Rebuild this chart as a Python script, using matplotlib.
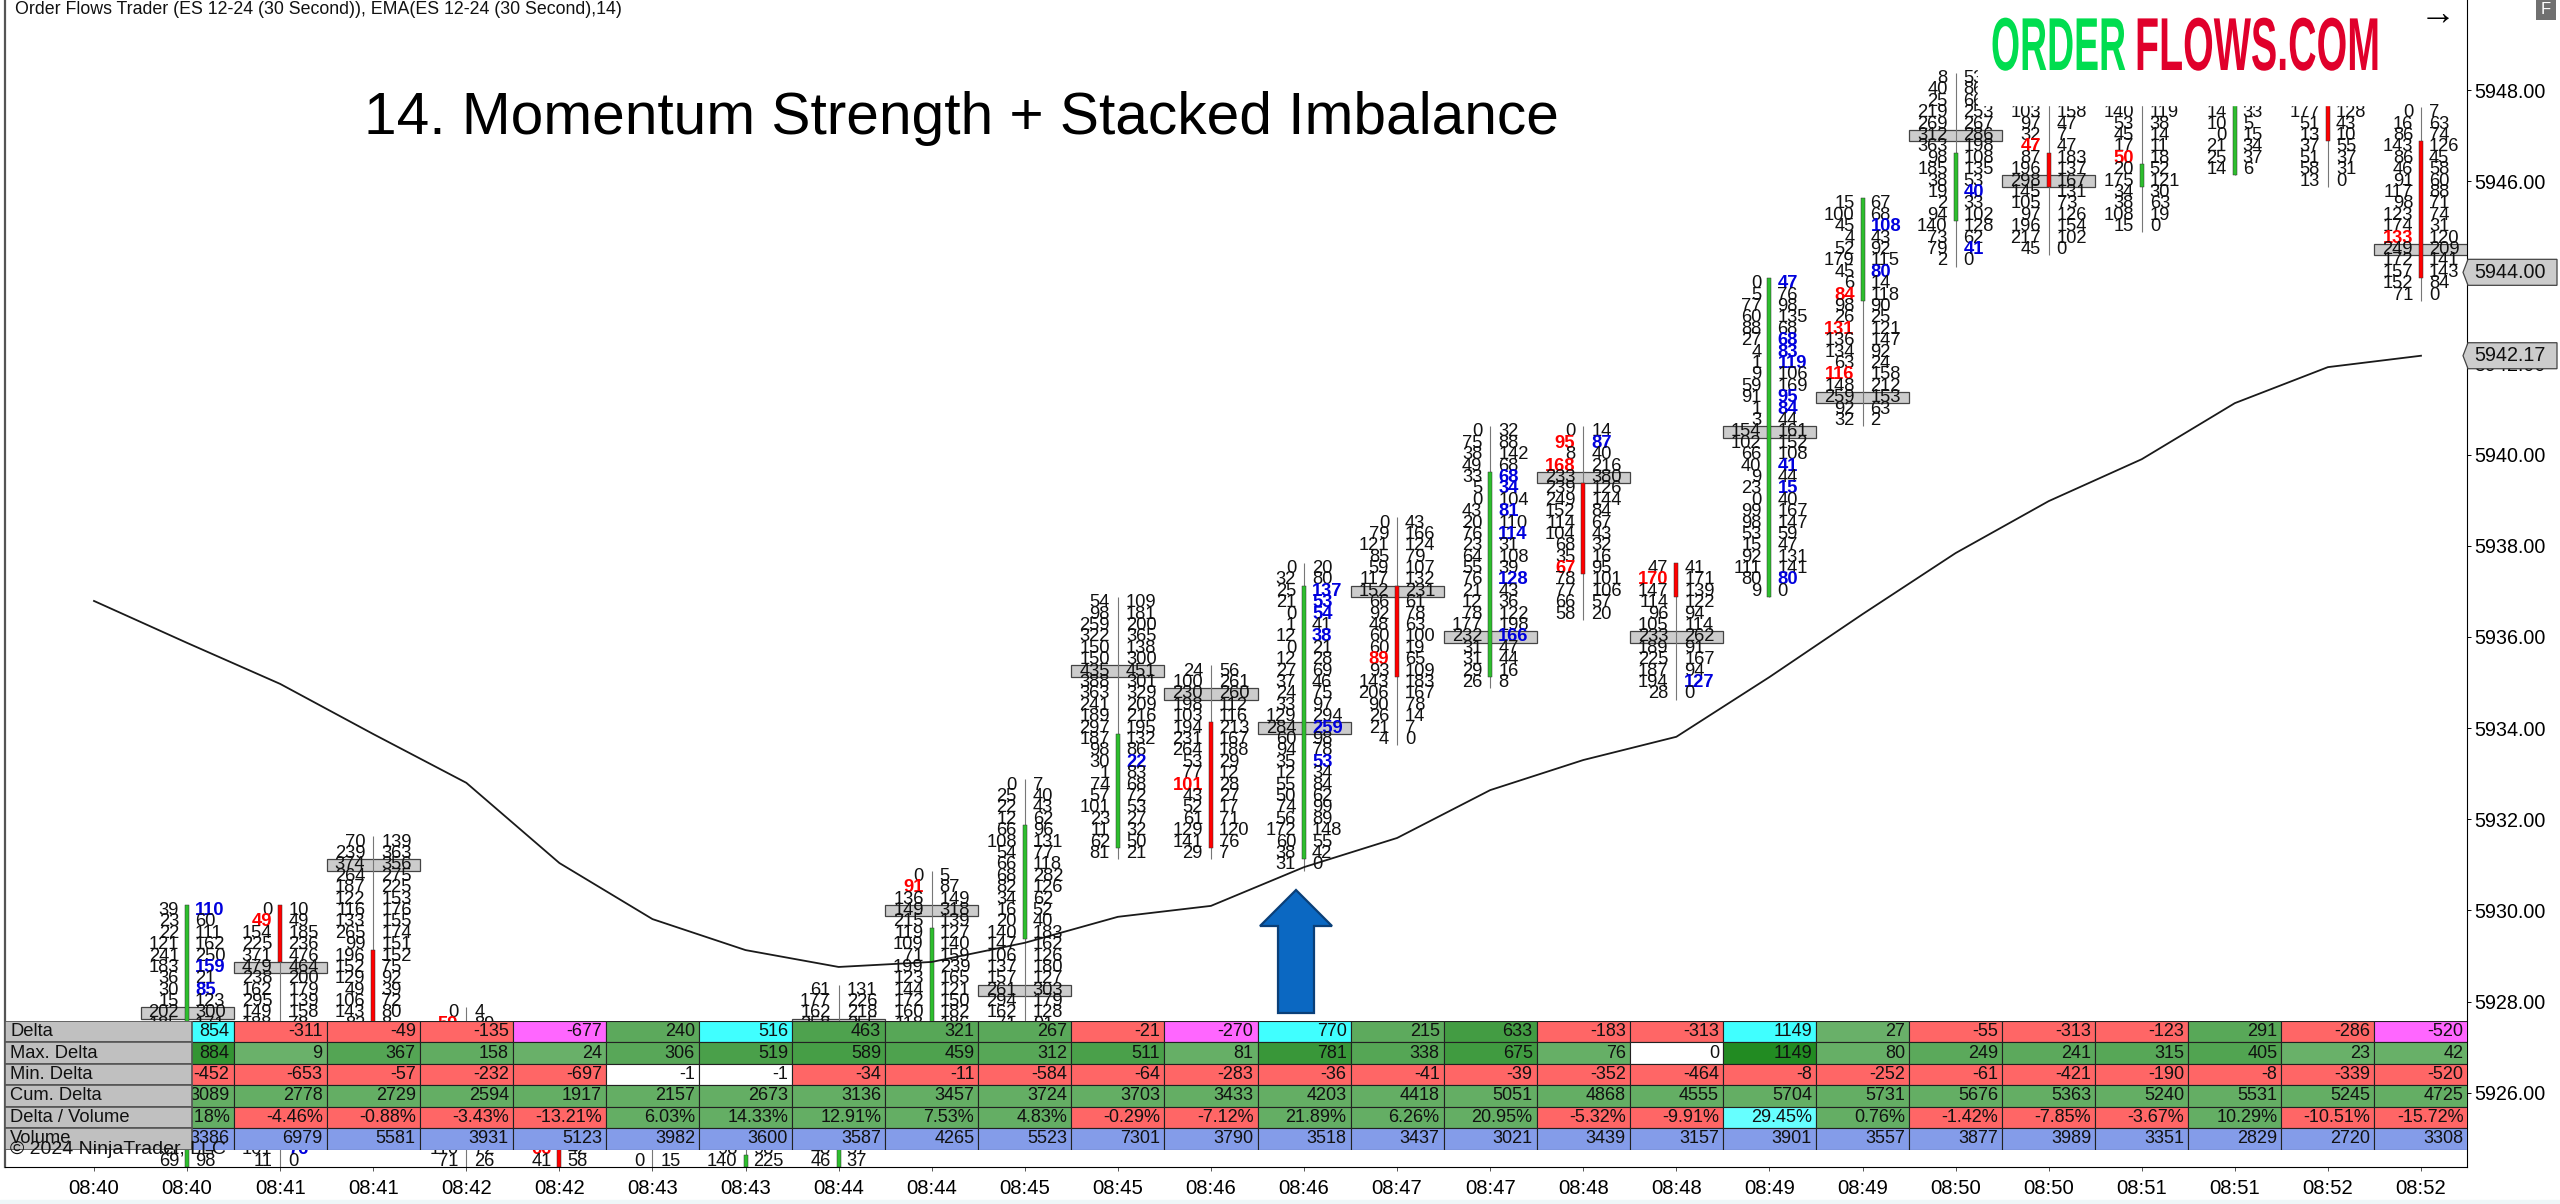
import matplotlib
matplotlib.use("Agg")
import matplotlib.pyplot as plt
from matplotlib.patches import Polygon, Rectangle
from matplotlib.patheffects import AbstractPathEffect
from matplotlib.transforms import Affine2D, IdentityTransform

W, H = 2560, 1204
plt.rcParams['font.family'] = ['Liberation Sans', 'DejaVu Sans']

# x axis
TIME_LABELS = ["08:40", "08:40", "08:41", "08:41", "08:42", "08:42", "08:43", "08:43", "08:44",
               "08:44", "08:45", "08:45", "08:46", "08:46", "08:47", "08:47", "08:48", "08:48",
               "08:49", "08:49", "08:50", "08:50", "08:51", "08:51", "08:52", "08:52"]
PRICE_TICKS = [5926, 5928, 5930, 5932, 5934, 5936, 5938, 5940, 5942, 5944, 5946, 5948]

# EMA, one value per time label
EMA = [5936.79, 5935.87, 5934.97, 5933.87, 5932.80, 5931.04, 5929.81, 5929.13, 5928.76, 5928.87,
       5929.29, 5929.86, 5930.10, 5930.95, 5931.59, 5932.64, 5933.30, 5933.81, 5935.12, 5936.50,
       5937.84, 5938.98, 5939.90, 5941.13, 5941.92, 5942.17]

# candles for bars 1..25 (values behind the table are estimates)
OPENS = [5924.5, 5930, 5929, 5926.5, 5926, 5926, 5924.5, 5924.5, 5925.75, 5929.5, 5931.5, 5934, 5931.25,
         5937, 5935.25, 5939.25, 5937.5, 5937, 5943.5, 5945.25, 5946.5, 5946, 5946.25, 5948, 5946.75]
CLOSES = [5930, 5929, 5925.5, 5926, 5924.5, 5925.5, 5924.5, 5926, 5929.5, 5931.75, 5933.75, 5931.5, 5937,
          5935.25, 5939.5, 5937.5, 5937, 5943.75, 5945.5, 5946.5, 5946, 5946.25, 5948, 5947, 5944]
HIGHS = [5930, 5930, 5931.5, 5927.75, 5926.5, 5926, 5926.5, 5928.25, 5930.75, 5932.75, 5936.75, 5935.25,
         5937.5, 5938.5, 5940.5, 5940.5, 5937.5, 5943.75, 5945.5, 5948.25, 5947.75, 5947.75, 5948, 5948, 5947.5]
LOWS = [5924.5, 5924.5, 5925.5, 5924.5, 5924.5, 5924.5, 5924.5, 5924.5, 5925.5, 5926, 5931.25, 5931.25,
        5931, 5933.75, 5935, 5936.5, 5934.75, 5937, 5940.75, 5944.25, 5944.5, 5945, 5946.25, 5946, 5943.5]

# footprint rows readable above the table, from the price of the first row going down
TOPS = {1: 5930, 2: 5930, 3: 5931.5, 4: 5927.75, 8: 5928.25, 9: 5930.75, 10: 5932.75, 11: 5936.75,
        12: 5935.25, 13: 5937.5, 14: 5938.5, 15: 5940.5, 16: 5940.5, 17: 5937.5, 18: 5943.75, 19: 5945.5,
        20: 5948.25, 21: 5947.75, 22: 5947.75, 23: 5947.75, 24: 5947.75, 25: 5947.5}
BIDS = {
    1: [39, 23, 22, 121, 241, 183, 36, 30, 15, 202, 185],
    2: [0, 49, 154, 225, 371, 479, 238, 162, 295, 149, 188],
    3: [70, 239, 374, 264, 187, 122, 116, 133, 265, 99, 196, 152, 129, 49, 106, 143, 82],
    4: [0, 59],
    8: [61, 177, 162, 258],
    9: [0, 91, 136, 149, 215, 119, 109, 71, 199, 123, 144, 172, 160, 118],
    10: [0, 25, 22, 12, 66, 108, 54, 66, 68, 82, 34, 16, 20, 140, 147, 106, 137, 157, 261, 294, 162, 71],
    11: [54, 98, 259, 322, 150, 150, 435, 388, 363, 241, 189, 297, 187, 98, 30, 1, 74, 57, 101, 23, 11, 62, 81],
    12: [24, 100, 230, 198, 103, 194, 231, 264, 53, 77, 101, 43, 52, 61, 129, 141, 29],
    13: [0, 32, 25, 21, 0, 1, 12, 0, 12, 27, 37, 24, 33, 129, 284, 60, 94, 35, 12, 55, 50, 74, 56, 172, 60, 38, 31],
    14: [0, 79, 121, 85, 59, 117, 152, 66, 92, 48, 60, 60, 89, 93, 143, 206, 90, 26, 21, 4],
    15: [0, 75, 38, 49, 33, 5, 0, 43, 20, 76, 23, 64, 55, 76, 21, 12, 78, 177, 232, 31, 31, 29, 26],
    16: [0, 95, 8, 168, 233, 239, 249, 152, 114, 104, 68, 35, 67, 78, 77, 66, 58],
    17: [47, 170, 147, 114, 96, 105, 233, 189, 225, 187, 194, 28],
    18: [0, 5, 77, 60, 88, 27, 4, 1, 9, 59, 91, 1, 3, 154, 102, 66, 40, 9, 23, 0, 99, 98, 53, 15, 92, 111, 80, 9],
    19: [15, 100, 45, 4, 52, 179, 45, 6, 84, 98, 26, 131, 136, 134, 63, 116, 148, 259, 92, 32],
    20: [8, 40, 25, 219, 269, 312, 363, 98, 185, 38, 19, 2, 94, 140, 73, 79, 2],
    21: [98, 103, 97, 32, 47, 87, 196, 298, 145, 105, 97, 196, 217, 45],
    22: [148, 140, 53, 45, 17, 50, 20, 175, 34, 38, 108, 15],
    23: [29, 14, 10, 0, 21, 25, 14],
    24: [224, 177, 51, 13, 37, 51, 58, 13],
    25: [0, 16, 86, 143, 86, 46, 91, 117, 98, 123, 174, 133, 249, 172, 157, 152, 71],
}
ASKS = {
    1: [110, 60, 111, 162, 250, 159, 21, 85, 123, 300, 171],
    2: [10, 49, 185, 236, 476, 464, 200, 179, 139, 158, 78],
    3: [139, 363, 356, 275, 225, 153, 176, 155, 174, 151, 152, 75, 92, 39, 72, 80, 8],
    4: [4, 89],
    8: [131, 226, 218, 255],
    9: [5, 87, 149, 318, 139, 127, 140, 159, 239, 165, 121, 150, 182, 186],
    10: [7, 40, 43, 62, 96, 131, 77, 118, 282, 126, 62, 52, 40, 183, 162, 126, 180, 127, 303, 179, 128, 91],
    11: [109, 181, 200, 365, 138, 300, 451, 301, 329, 209, 216, 195, 132, 86, 22, 83, 68, 72, 53, 27, 32, 50, 21],
    12: [56, 261, 260, 112, 116, 213, 167, 188, 29, 12, 28, 27, 17, 71, 120, 76, 7],
    13: [20, 80, 137, 53, 54, 41, 38, 21, 28, 69, 46, 75, 97, 294, 259, 98, 78, 53, 34, 84, 62, 99, 89, 148, 55, 42, 0],
    14: [43, 166, 124, 79, 107, 132, 231, 61, 78, 63, 100, 19, 65, 109, 183, 167, 78, 14, 7, 0],
    15: [32, 88, 142, 68, 68, 34, 104, 81, 110, 114, 31, 108, 39, 128, 43, 36, 122, 198, 166, 47, 44, 16, 8],
    16: [14, 87, 40, 216, 380, 126, 144, 84, 67, 43, 32, 16, 95, 101, 106, 57, 20],
    17: [41, 171, 139, 122, 94, 114, 262, 91, 167, 94, 127, 0],
    18: [47, 76, 98, 135, 68, 68, 83, 119, 106, 169, 95, 84, 44, 161, 152, 108, 41, 44, 15, 40, 167, 147, 59, 47, 131, 141, 80, 0],
    19: [67, 68, 108, 43, 92, 115, 80, 14, 118, 90, 25, 121, 147, 92, 24, 158, 212, 153, 63, 2],
    20: [53, 86, 66, 253, 267, 286, 198, 108, 135, 53, 40, 33, 102, 128, 62, 41, 0],
    21: [92, 158, 47, 7, 47, 183, 137, 167, 131, 73, 126, 154, 102, 0],
    22: [196, 119, 38, 14, 11, 18, 52, 121, 30, 63, 19, 0],
    23: [36, 33, 5, 15, 34, 37, 6],
    24: [197, 128, 43, 10, 55, 37, 31, 0],
    25: [7, 63, 74, 126, 45, 58, 60, 88, 71, 74, 31, 120, 209, 141, 143, 84, 0],
}
POC_ROWS = {1: 9, 2: 5, 3: 2, 8: 3, 9: 3, 10: 18, 11: 6, 12: 2, 13: 14, 14: 6, 15: 18, 16: 4, 17: 6,
            18: 13, 19: 17, 20: 5, 21: 7, 25: 12}
RED_BIDS = {2: [1], 4: [1], 9: [1], 12: [10], 14: [12], 16: [1, 3, 12], 17: [1], 19: [8, 11, 15],
            21: [4], 22: [5], 25: [11]}
BLUE_ASKS = {1: [0, 5, 7], 11: [14], 13: [2, 3, 4, 6, 14, 17], 15: [4, 5, 7, 9, 13, 18], 16: [1], 17: [10],
             18: [0, 5, 6, 7, 10, 11, 16, 18, 26], 19: [2, 6], 20: [10, 15]}

# rows showing below the table, the last one at LOW_PRICE
LOW_PRICE = 5924.5
LOW_BIDS = {1: [91, 69], 2: [101, 11], 4: [110, 71], 5: [66, 41], 6: [0], 7: [98, 140], 8: [48, 46]}
LOW_ASKS = {1: [74, 98], 2: [76, 0], 4: [72, 26], 5: [42, 58], 6: [15], 7: [98, 225], 8: [57, 37]}
LOW_RED = {5: [0]}
LOW_BLUE = {2: [0]}

# table, bars 1..25
ROW_NAMES = ["Delta", "Max. Delta", "Min. Delta", "Cum. Delta", "Delta / Volume", "Volume"]
DELTA = [854, -311, -49, -135, -677, 240, 516, 463, 321, 267, -21, -270, 770, 215, 633, -183, -313, 1149,
         27, -55, -313, -123, 291, -286, -520]
MAX_DELTA = [884, 9, 367, 158, 24, 306, 519, 589, 459, 312, 511, 81, 781, 338, 675, 76, 0, 1149, 80, 249,
             241, 315, 405, 23, 42]
MIN_DELTA = [-452, -653, -57, -232, -697, -1, -1, -34, -11, -584, -64, -283, -36, -41, -39, -352, -464, -8,
             -252, -61, -421, -190, -8, -339, -520]
CUM_DELTA = [3089, 2778, 2729, 2594, 1917, 2157, 2673, 3136, 3457, 3724, 3703, 3433, 4203, 4418, 5051, 4868,
             4555, 5704, 5731, 5676, 5363, 5240, 5531, 5245, 4725]
DELTA_VOL = [25.18, -4.46, -0.88, -3.43, -13.21, 6.03, 14.33, 12.91, 7.53, 4.83, -0.29, -7.12, 21.89, 6.26,
             20.95, -5.32, -9.91, 29.45, 0.76, -1.42, -7.85, -3.67, 10.29, -10.51, -15.72]
VOLUME = [3386, 6979, 5581, 3931, 5123, 3982, 3600, 3587, 4265, 5523, 7301, 3790, 3518, 3437, 3021, 3439,
          3157, 3901, 3557, 3877, 3989, 3351, 2829, 2720, 3308]
DELTA_CYAN = [854, 516, 770, 1149]
DELTA_MAGENTA = [-677, -270, -520]
DV_CYAN = [29.45]


def fx(x):
    return x / W


def fy(y):
    return 1 - y / H


def idx(px):
    return (px - 94) / 93.08


def price(py):
    return 5948 - (py - 90) / 45.58


def px_poly(points, **kw):
    # polygon given in image pixels, y going down
    fig.add_artist(Polygon([(x, H - y) for x, y in points], closed=True, transform=IdentityTransform(), **kw))


class Squeeze(AbstractPathEffect):
    # narrows a text to fit the logo, glyphs are still a normal Text
    def __init__(self, sx):
        super().__init__()
        self.sx = sx

    def draw_path(self, renderer, gc, tpath, affine, rgbFace=None):
        renderer.draw_path(gc, tpath, Affine2D().scale(self.sx, 1) + affine, rgbFace)


fig = plt.figure(figsize=(W / 100, H / 100), dpi=100, facecolor="white")
fig.add_artist(Rectangle((0, 0), 1, 4 / H, transform=fig.transFigure, color="#EEF6F8"))

ax = fig.add_axes([fx(5), fy(1167), (2467 - 5) / W, 1167 / H])
ax.set_xlim(idx(5), idx(2467))
ax.set_ylim(price(1167), price(0))
ax.spines["top"].set_visible(False)
ax.spines["left"].set_color("#555555")
ax.spines["left"].set_linewidth(1.6)
ax.set_xticks(range(len(TIME_LABELS)))
ax.set_xticklabels(TIME_LABELS, fontsize=14.6)
ax.tick_params(axis="x", length=3, width=0.7, pad=6, color="#555555")
ax.yaxis.tick_right()
ax.set_yticks(PRICE_TICKS)
ax.set_yticklabels([f"{p:.2f}" for p in PRICE_TICKS], fontsize=14.2)
ax.tick_params(axis="y", length=3, width=0.7, pad=2)

GREEN_BAR = "#2DBE2D"
RED_BAR = "#FF0000"
FOOT_SIZE = 13.2
GAP = 8 / 93.08


def foot_text(i, p, bid, ask, red, blue):
    ax.text(i - GAP, p, str(bid), ha="right", va="center", fontsize=FOOT_SIZE, zorder=4,
            color="#FF0000" if red else "#111111", fontweight="bold" if red else "normal")
    ax.text(i + GAP, p, str(ask), ha="left", va="center", fontsize=FOOT_SIZE, zorder=4,
            color="#0000DD" if blue else "#111111", fontweight="bold" if blue else "normal")


for n in range(25):
    i = n + 1
    o, c = OPENS[n], CLOSES[n]
    ax.vlines(i, LOWS[n] - 0.125, HIGHS[n] + 0.125, color="#777777", lw=0.8, zorder=2.5)
    ax.bar(i, abs(c - o) + 0.25, bottom=min(o, c) - 0.125, width=4 / 93.08,
           color=GREEN_BAR if c >= o else RED_BAR, edgecolor="#333333", lw=0.35, zorder=2.6)

for i, top in TOPS.items():
    if i in POC_ROWS:
        ax.bar(i, 0.25, bottom=top - POC_ROWS[i] * 0.25 - 0.125, width=1, color="#CCCCCC",
               edgecolor="#444444", lw=0.9, zorder=2)
    for r, (bid, ask) in enumerate(zip(BIDS[i], ASKS[i])):
        foot_text(i, top - r * 0.25, bid, ask, r in RED_BIDS.get(i, []), r in BLUE_ASKS.get(i, []))

for i, bids in LOW_BIDS.items():
    first = LOW_PRICE + (len(bids) - 1) * 0.25
    for r, (bid, ask) in enumerate(zip(bids, LOW_ASKS[i])):
        foot_text(i, first - r * 0.25, bid, ask, r in LOW_RED.get(i, []), r in LOW_BLUE.get(i, []))

ax.plot(range(len(EMA)), EMA, color="#1A1A1A", lw=1.3, zorder=3)

# white logo box hides the top rows
ax.add_patch(Rectangle((idx(1978), price(105)), idx(2395) - idx(1978), price(0) - price(105),
                       color="white", zorder=5))

# table
tab = fig.add_axes([fx(5), fy(1149.5), (2467 - 5) / W, 128.5 / H], zorder=5)
tab.set_xlim(ax.get_xlim())
tab.set_ylim(6, 0)
tab.axis("off")


def green(a):
    return tuple(1 - (1 - c) * a for c in (34 / 255, 139 / 255, 34 / 255))


RED_CELL = "#FF6666"
BLUE_CELL = "#849CE9"
rows = [DELTA, MAX_DELTA, MIN_DELTA, CUM_DELTA, DELTA_VOL, VOLUME]
for r, vals in enumerate(rows):
    for n, v in enumerate(vals):
        i = n + 1
        if r == 0:
            col = "#40FFFF" if v in DELTA_CYAN else "#FF66FF" if v in DELTA_MAGENTA else RED_CELL if v < 0 else green(0.67 + 0.33 * v / 1149)
        elif r == 1:
            col = "white" if v == 0 else green(0.67 + 0.33 * v / 1149)
        elif r == 2:
            col = "white" if v == -1 else RED_CELL
        elif r == 3:
            col = green(0.7)
        elif r == 4:
            col = "#66FFFF" if v in DV_CYAN else RED_CELL if v < 0 else green(0.7)
        else:
            col = BLUE_CELL
        tab.bar(i, 1, bottom=r, width=1, color=col, edgecolor="#222222", lw=0.8, zorder=1)
        txt = f"{v:.2f}%" if r == 4 else str(v)
        tab.text(i + 0.457, r + 0.5, txt, ha="right", va="center", fontsize=13, color="#111111", zorder=2)
    tab.add_patch(Rectangle((idx(5), r), idx(192) - idx(5), 1, facecolor="#C0C0C0", edgecolor="#555555",
                            lw=1.2, zorder=3))
    tab.text(idx(10), r + 0.5, ROW_NAMES[r], ha="left", va="center", fontsize=13.2, color="#111111", zorder=4)

# price markers on the axis
for p, label in [(5944.00, "5944.00"), (EMA[-1], f"{EMA[-1]:.2f}")]:
    y = 90 + (5948 - p) * 45.58
    px_poly([(2463, y), (2468, y - 13), (2557, y - 13), (2557, y + 13), (2468, y + 13)],
            facecolor="#CCCCCC", edgecolor="#444444", lw=0.9, zorder=6)
    fig.text(fx(2474), fy(y), label, fontsize=14.2, ha="left", va="center", color="#111111", zorder=7)

# arrow pointing at the setup
px_poly([(1296, 890), (1332, 926), (1314, 926), (1314, 1013), (1278, 1013), (1278, 926), (1260, 926)],
        facecolor="#0B68C2", edgecolor="#0A3F78", lw=1.6, zorder=4)

# texts
fig.text(fx(15), fy(9), "Order Flows Trader (ES 12-24 (30 Second)), EMA(ES 12-24 (30 Second),14)",
         fontsize=12.8, ha="left", va="center", color="#111111", zorder=8)
fig.text(fx(364), fy(119), "14. Momentum Strength + Stacked Imbalance", fontsize=42.2, ha="left", va="center",
         color="#000000", zorder=8)
fig.text(fx(10), fy(1150), "\u00a9 2024 NinjaTrader, LLC", fontsize=14, ha="left", va="center",
         color="#111111", zorder=8)
fig.text(fx(2438), fy(15), "\u2192", fontsize=26, fontweight="bold", ha="center", va="center", color="black", zorder=8)
px_poly([(2536, 0), (2556, 0), (2556, 20), (2536, 20)], facecolor="#707070", edgecolor="none", zorder=8)
fig.text(fx(2546), fy(10), "F", fontsize=12, ha="center", va="center", color="white", zorder=9)

# logo
renderer = fig.canvas.get_renderer()
for word, color, left, width in [("ORDER", "#00DD4F", 1991, 135), ("FLOWS.COM", "#E0002B", 2135, 245)]:
    t = fig.text(fx(left), fy(70), word, fontsize=54, family=["Liberation Sans Narrow", "Liberation Sans"],
                 fontweight="bold", ha="left", va="baseline", color=color, zorder=8)
    t.set_path_effects([Squeeze(width / t.get_window_extent(renderer).width)])

fig.savefig("out.png", dpi=100)
